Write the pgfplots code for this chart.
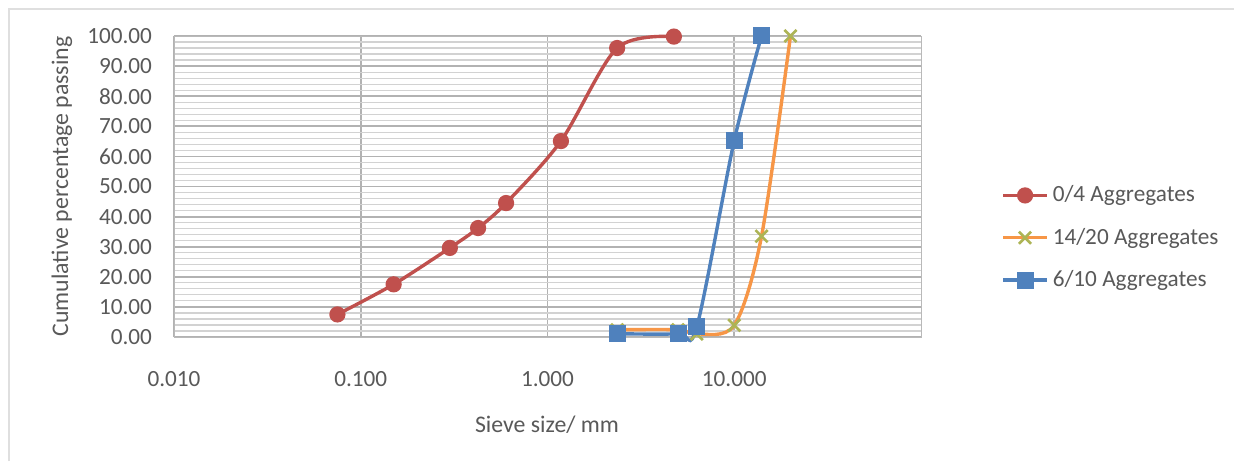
\documentclass[border=0pt]{standalone}
\usepackage{pgfplots}
\pgfplotsset{compat=1.18}
\usepackage{fontspec}
\setmainfont{Carlito}
\definecolor{cred}{HTML}{C0504D}
\definecolor{corange}{HTML}{F79646}
\definecolor{cgreen}{HTML}{9BBB59}
\definecolor{cblue}{HTML}{4F81BD}
\definecolor{ctext}{HTML}{595959}
\begin{document}
\begin{tikzpicture}
\useasboundingbox (0pt,0pt) rectangle (617pt,230.5pt);
\fill[white] (0pt,0pt) rectangle (617pt,230.5pt);
\draw[gray!25,line width=1.2pt] (4.5pt,0pt) -- (4.5pt,226pt) -- (617pt,226pt);
\begin{axis}[
  at={(87pt,62pt)}, anchor=south west,
  scale only axis, width=373.5pt, height=150.5pt,
  xmode=log, log basis x=10,
  xmin=0.01, xmax=100, ymin=0, ymax=100,
  xtick={0.01,0.1,1,10},
  xticklabels={0.010,0.100,1.000,10.000},
  ytick={0,10,...,100},
  minor y tick num=4,
  yticklabel style={/pgf/number format/.cd,fixed,fixed zerofill,precision=2},
  /pgf/number format/assume math mode=true,
  tick label style={font=\fontsize{11.6}{13}\selectfont, text=ctext},
  xticklabel shift=13.5pt,
  yticklabel shift=7.5pt,
  major tick length=0pt, minor tick length=0pt,
  grid=both,
  major grid style={gray!60, line width=0.9pt},
  minor grid style={gray!35, line width=0.6pt},
  axis line style={gray!55},
  ylabel={Cumulative percentage passing},
  xlabel={Sieve size/ mm},
  label style={font=\fontsize{11.9}{14}\selectfont, text=ctext},
  ylabel style={at={(axis description cs:-0.150,0.5)}, anchor=center},
  xlabel style={at={(axis description cs:0.4993,-0.292)}, anchor=center},
  legend style={at={(axis description cs:1.099,0.530)}, anchor=north west,
    draw=none, fill=none, font=\fontsize{11.6}{13}\selectfont, text=ctext,
    row sep=7.6pt},
  legend cell align=left,
  legend image code/.code={
    \draw[#1, mark=none] (0pt,0pt) -- (22pt,0pt);
    \draw[#1, only marks] plot coordinates {(11pt,0pt)};
  },
  clip=false,
]
\addplot[cred, line width=1.7pt, smooth, tension=0.5, mark=*, mark size=3.2pt,
  mark options={fill=cred, draw=cred}] coordinates {
  (0.075,7.5) (0.15,17.5) (0.3,29.6) (0.425,36.2) (0.6,44.5)
  (1.18,65.1) (2.36,96.0) (4.75,99.8)};
\addlegendentry{0/4 Aggregates}
\addplot[corange, line width=1.7pt, smooth, tension=0.5, mark=x, mark size=4.3pt,
  mark options={draw=cgreen!80!corange, line width=1.3pt}] coordinates {
  (2.36,2.4) (5,2.4) (6.3,1.0) (10,3.9) (14,33.5) (20,100)};
\addlegendentry{14/20 Aggregates}
\addplot[cblue, line width=1.7pt, smooth, tension=0.5, mark=square*, mark size=3.4pt,
  mark options={fill=cblue, draw=cblue}] coordinates {
  (2.36,1.1) (5,1.1) (6.3,3.4) (10,65.3) (14,100)};
\addlegendentry{6/10 Aggregates}
\end{axis}
\end{tikzpicture}
\end{document}
